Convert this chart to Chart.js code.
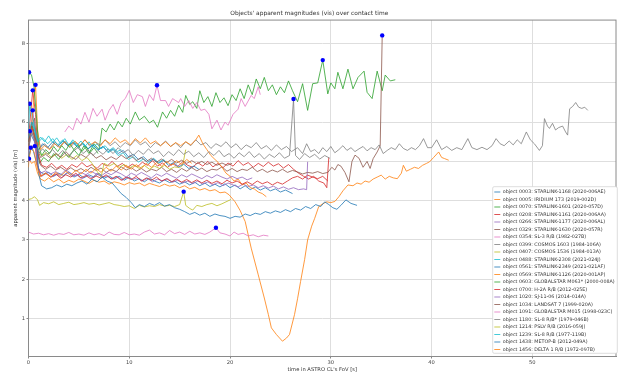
<!DOCTYPE html>
<html>
<head>
<meta charset="utf-8">
<script src="https://cdn.jsdelivr.net/npm/chart.js@4.4.0/dist/chart.umd.min.js"></script>
<style>
  html, body { margin: 0; padding: 0; background: #fff; }
</style>
</head>
<body>
<canvas id="c" width="620" height="373"></canvas>
<script>
// legend labels, in plotting order
const names = [
  "object 0003: STARLINK-1168 (2020-006AE)",
  "object 0005: IRIDIUM 173 (2019-002D)",
  "object 0070: STARLINK-1601 (2020-057D)",
  "object 0208: STARLINK-1161 (2020-006AA)",
  "object 0266: STARLINK-1177 (2020-006AL)",
  "object 0329: STARLINK-1630 (2020-057R)",
  "object 0354: SL-3 R/B (1982-027B)",
  "object 0399: COSMOS 1603 (1984-106A)",
  "object 0407: COSMOS 1536 (1984-013A)",
  "object 0488: STARLINK-2308 (2021-024J)",
  "object 0561: STARLINK-2349 (2021-021AF)",
  "object 0569: STARLINK-1126 (2020-001AP)",
  "object 0603: GLOBALSTAR M063* (2000-008A)",
  "object 0700: H-2A R/B (2012-025E)",
  "object 1020: SJ-11-06 (2014-014A)",
  "object 1034: LANDSAT 7 (1999-020A)",
  "object 1091: GLOBALSTAR M015 (1998-023C)",
  "object 1180: SL-8 R/B* (1979-046B)",
  "object 1214: PSLV R/B (2016-059J)",
  "object 1239: SL-8 R/B (1977-119B)",
  "object 1438: METOP-B (2012-049A)",
  "object 1456: DELTA 1 R/B (1972-097B)"
];

const colors = ['#1f77b4','#ff7f0e','#2ca02c','#d62728','#9467bd','#8c564b','#e377c2','#7f7f7f','#bcbd22','#17becf'];

// [time s, magnitude]
const obj0003 = [[0,5.1],[0.22,5.35],[0.5,5.25],[0.8,4.95],[1.1,4.75],[1.5,4.68],[2,4.72],[2.5,4.62],[3,4.7],[3.5,4.64],[4,4.73],[4.5,4.6],[5,4.67],[5.5,4.58],[6,4.66],[6.5,4.6],[7,4.7],[7.5,4.57],[8,4.63],[8.5,4.55],[9,4.62],[9.5,4.52],[10,4.6],[10.5,4.5],[11,4.56],[11.5,4.48],[12,4.57],[12.5,4.5],[13,4.45],[13.5,4.53],[14,4.46],[14.5,4.5],[15,4.42],[15.5,4.48],[16,4.4],[16.5,4.47],[17,4.38],[17.5,4.45],[18,4.36],[18.5,4.42],[19,4.35],[19.5,4.43],[20,4.33],[20.5,4.4],[21,4.3],[21.5,4.38],[22,4.28],[22.5,4.35],[23,4.27],[23.5,4.33],[24,4.25],[24.5,4.3],[25,4.22],[25.5,4.27],[26.2,4.18]];
const obj0005 = [[0,4.85],[0.05,5.07],[0.3,4.95],[0.6,5.0],[0.9,4.7],[1.2,4.55],[1.6,4.5],[2,4.58],[2.5,4.48],[3,4.55],[3.5,4.45],[4,4.52],[4.5,4.47],[5,4.55],[5.5,4.5],[6,4.44],[6.5,4.52],[7,4.47],[7.5,4.5],[8,4.42],[8.5,4.48],[9,4.45],[9.5,4.4],[10,4.46],[10.5,4.42],[11,4.45],[11.5,4.38],[12,4.44],[12.5,4.4],[13,4.36],[13.5,4.42],[14,4.37],[14.5,4.4],[15,4.33],[15.5,4.38],[16,4.3],[16.5,4.34],[17,4.27],[17.5,4.31],[18,4.25],[18.5,4.28],[19,4.2],[19.5,4.22],[19.9,4.15],[20.5,3.97],[21,3.75],[21.5,3.47],[22.1,2.79],[22.8,2.11],[23.4,1.52],[23.8,1.1],[24.1,0.76],[24.6,0.59],[25.2,0.42],[25.6,0.5],[25.9,0.59],[26.4,1.1],[26.7,1.5],[27,1.94],[27.4,2.5],[27.7,3.0],[28.1,3.35],[28.4,3.55],[28.8,3.85],[29.2,3.92],[29.6,3.97],[30,3.95],[30.4,3.98],[30.8,4.1],[31.2,4.25],[31.7,4.4],[32.2,4.38],[32.6,4.45],[33,4.42],[33.4,4.5],[33.8,4.47],[34.2,4.55],[34.6,4.6],[35,4.65],[35.4,4.55],[35.8,4.62],[36.2,4.58],[36.6,4.56],[37,4.7],[37.2,4.9],[37.5,4.75],[37.9,4.8],[38.3,4.85],[38.7,4.82],[39.1,4.9],[39.5,4.95],[39.8,4.99],[40.2,5.1],[40.7,5.24],[41,5.1],[41.3,5.07],[41.7,5.03]];
const obj0070 = [[0,5.5],[0.4,5.9],[0.8,5.4],[1.1,4.95],[1.5,5.1],[2,5.0],[2.5,5.2],[3,5.05],[3.5,5.25],[4,5.1],[4.5,5.3],[5,5.15],[5.5,5.4],[6,5.2],[6.5,5.45],[7,5.3],[7.3,5.85],[7.7,5.75],[8.1,5.95],[8.5,5.8],[8.9,6.02],[9.3,5.88],[9.7,6.1],[10.1,5.95],[10.6,6.26],[11,6.05],[11.5,6.15],[12,5.98],[12.4,6.05],[12.8,5.87],[13.3,6.26],[13.7,6.1],[14.1,6.3],[14.5,6.15],[14.9,6.43],[15.3,6.25],[15.6,6.68],[16,6.45],[16.3,6.52],[16.7,6.35],[17,6.8],[17.4,6.5],[17.8,6.65],[18.2,6.4],[18.6,6.75],[19,6.5],[19.4,6.62],[19.8,6.42],[20.2,6.7],[20.6,6.55],[21,6.85],[21.4,6.6],[21.8,6.95],[22.2,6.7],[22.6,7.1],[23,6.85],[23.4,7.14],[23.8,6.8],[24.2,6.95],[24.6,6.7],[25,6.9],[25.4,6.75],[25.8,7.05],[26.2,6.8],[26.7,6.52],[27.2,6.98],[27.7,6.3],[28.2,6.98],[28.7,7.0],[29.2,7.58],[29.7,6.72],[30,7.0],[30.4,6.85],[30.7,7.27],[31.2,6.85],[31.7,7.35],[32.2,6.85],[32.7,7.14],[33.3,7.3],[33.6,6.76],[34.1,6.6],[34.6,7.3],[35.1,6.8],[35.4,7.2],[35.9,7.05],[36.4,7.08]];
const obj0208 = [[0,5.6],[0.42,6.81],[0.7,6.2],[0.95,5.2],[1.3,4.9],[1.8,4.85],[2.3,4.95],[2.8,4.82],[3.3,4.9],[3.8,4.8],[4.3,4.92],[4.8,4.85],[5.3,4.97],[5.8,4.86],[6.3,4.92],[6.8,4.82],[7.3,4.95],[7.8,4.88],[8.3,5.0],[8.8,4.87],[9.3,4.95],[9.8,4.84],[10.3,4.93],[10.8,4.86],[11.3,4.98],[11.8,4.9],[12.3,5.02],[12.8,4.88],[13.3,4.96],[13.8,4.85],[14.3,4.94],[14.8,4.87],[15.3,4.99],[15.8,4.9],[16.3,4.85],[16.8,4.97],[17.3,4.88],[17.8,5.0],[18.3,4.86],[18.8,4.95],[19.3,4.84],[19.8,4.96],[20.3,4.88],[20.8,5.02],[21.3,4.9],[21.8,4.97],[22.3,4.85],[22.8,4.95],[23.3,4.87],[23.8,4.98],[24.3,4.88],[24.8,4.94],[25.3,4.83],[25.8,4.92],[26.3,4.8],[26.8,4.7],[27.3,4.62],[27.8,4.55],[28.3,4.62],[28.8,4.5],[29.3,4.45],[29.6,4.33],[29.8,5.1]];
const obj0266 = [[0,5.2],[0.42,6.3],[0.7,5.7],[0.95,4.85],[1.3,4.62],[1.8,4.7],[2.3,4.6],[2.8,4.68],[3.3,4.58],[3.8,4.72],[4.3,4.62],[4.8,4.66],[5.3,4.55],[5.8,4.65],[6.3,4.58],[6.8,4.7],[7.3,4.6],[7.8,4.63],[8.3,4.55],[8.8,4.62],[9.3,4.52],[9.8,4.6],[10.3,4.54],[10.8,4.58],[11.3,4.5],[11.8,4.57],[12.3,4.48],[12.8,4.55],[13.3,4.5],[13.8,4.56],[14.3,4.47],[14.8,4.52],[15.3,4.45],[15.8,4.5],[16.3,4.43],[16.8,4.5],[17.3,4.42],[17.8,4.48],[18.3,4.4],[18.8,4.46],[19.3,4.38],[19.8,4.45],[20.3,4.4],[20.8,4.35],[21.3,4.42],[21.8,4.36],[22.3,4.4],[22.8,4.33],[23.3,4.38],[23.8,4.32],[24.3,4.37],[24.8,4.3],[25.3,4.35],[25.8,4.29],[26.3,4.33],[26.8,4.28],[27.3,4.3],[27.6,4.28],[27.7,4.99]];
const obj0329 = [[0,5.3],[0.3,5.9],[0.6,6.1],[0.9,5.2],[1.2,4.9],[1.7,4.8],[2.2,4.88],[2.7,4.78],[3.2,4.85],[3.7,4.76],[4.2,4.84],[4.7,4.75],[5.2,4.82],[5.7,4.74],[6.2,4.85],[6.7,4.77],[7.2,4.83],[7.7,4.72],[8.2,4.8],[8.7,4.74],[9.2,4.86],[9.7,4.78],[10.2,4.84],[10.7,4.75],[11.2,4.82],[11.7,4.73],[12.2,4.8],[12.7,4.76],[13.2,4.85],[13.7,4.74],[14.2,4.8],[14.7,4.72],[15.2,4.82],[15.7,4.75],[16.2,4.84],[16.7,4.76],[17.2,4.83],[17.7,4.74],[18.2,4.8],[18.7,4.78],[19.2,4.86],[19.7,4.75],[20.2,4.82],[20.7,4.74],[21.2,4.8],[21.7,4.77],[22.2,4.85],[22.7,4.74],[23.2,4.8],[23.7,4.72],[24.2,4.78],[24.7,4.73],[25.2,4.8],[25.7,4.72],[26.2,4.77],[26.7,4.73],[27.2,4.68],[27.7,4.72],[28.2,4.7],[28.7,4.74],[29.2,4.69],[29.7,4.72],[30.1,4.85],[30.4,4.78],[30.7,4.92],[31,4.88],[31.4,4.72],[31.8,4.48],[32.1,5.0],[32.4,5.16],[32.8,5.08],[33.2,4.85],[33.6,5.0],[33.9,4.82],[34.2,5.07],[34.6,5.24],[34.9,5.4],[35.1,8.21]];
const obj0354 = [[3.6,5.75],[4,5.9],[4.4,5.8],[4.8,6.1],[5.2,5.95],[5.6,6.25],[6,6.0],[6.4,6.35],[6.8,6.15],[7.3,6.33],[7.6,6.05],[8,6.3],[8.4,6.45],[8.8,6.2],[9.2,6.5],[9.6,6.6],[10,6.81],[10.4,6.5],[10.8,6.7],[11.3,6.65],[11.6,6.4],[12,6.7],[12.4,6.55],[12.75,6.94],[13.1,6.55],[13.6,6.55],[13.9,6.4],[14.3,6.6],[14.9,6.5],[15.1,6.6],[15.5,6.4],[15.9,6.55],[16.3,6.35],[16.7,6.5],[17.1,6.3],[17.5,6.33],[17.9,6.2],[18.2,5.83],[18.7,6.05],[19.1,5.8],[19.5,6.0],[19.8,5.92],[20.3,6.2],[20.8,6.33],[21.1,6.6],[21.5,6.4],[22.1,6.68],[22.4,6.6],[22.8,6.9],[23,6.7]];
const obj0399 = [[0,5.6],[0.4,6.0],[0.8,5.7],[1.2,5.35],[1.6,5.45],[2.1,5.32],[2.6,5.5],[3.1,5.38],[3.6,5.52],[4.1,5.35],[4.6,5.48],[5.1,5.4],[5.6,5.55],[6.1,5.38],[6.6,5.5],[7.1,5.42],[7.6,5.55],[8.1,5.4],[8.6,5.5],[9.1,5.36],[9.6,5.48],[10.1,5.4],[10.6,5.55],[11.1,5.42],[11.6,5.5],[12.1,5.35],[12.6,5.48],[13.1,5.4],[13.6,5.52],[14.1,5.38],[14.6,5.47],[15.1,5.35],[15.6,5.5],[16.1,5.4],[16.6,5.55],[17.1,5.42],[17.6,5.48],[18.1,5.33],[18.6,5.45],[19.1,5.38],[19.6,5.5],[20.1,5.35],[20.6,5.45],[21.1,5.3],[21.6,5.42],[22.1,5.35],[22.6,5.48],[23.1,5.32],[23.6,5.4],[24.1,5.28],[24.6,5.42],[25.1,5.3],[25.6,5.38],[26.1,5.25],[26.7,5.35],[27.2,5.2],[27.6,5.45],[28,5.25],[28.4,5.3],[28.8,5.2],[29.2,5.35],[29.6,5.25],[30,5.38],[30.4,5.22],[30.8,5.3],[31.2,5.4],[31.6,5.28],[32,5.35],[32.4,5.25],[32.8,5.32],[33.2,5.38],[33.6,5.27],[34,5.35],[34.4,5.3],[34.8,5.42],[35.2,5.2],[35.6,5.28],[36,5.35],[36.4,5.3],[36.8,5.45],[37.2,5.33],[37.6,5.28],[38,5.35],[38.4,5.3],[38.8,5.4],[39.2,5.58],[39.6,5.35],[40,5.35],[40.5,5.55],[41,5.3],[41.5,5.38],[42,5.28],[42.5,5.35],[43,5.3],[43.6,5.58],[44,5.35],[44.5,5.3],[45,5.36],[45.5,5.3],[46,5.4],[46.4,5.58],[46.8,5.45],[47.2,5.4],[47.7,5.52],[48.1,5.42],[48.5,5.55],[48.9,5.45],[49.4,5.75],[49.8,5.55],[50.2,5.45],[50.7,5.28],[51,5.4],[51.2,6.09],[51.5,5.9],[51.7,5.84],[52,5.97],[52.3,5.8],[52.6,5.86],[53,5.9],[53.3,5.75],[53.5,5.67],[53.7,6.34],[54,6.4],[54.3,6.5],[54.6,6.38],[54.9,6.35],[55.2,6.38],[55.5,6.3]];
const obj0407 = [[0,5.5],[0.3,5.9],[0.6,5.6],[0.9,5.3],[1.3,5.15],[1.8,5.22],[2.3,5.1],[2.8,5.2],[3.3,5.08],[3.8,5.18],[4.3,5.05],[4.8,5.15],[5.3,5.02],[5.8,5.1],[6.3,4.95],[6.8,4.75],[7.2,4.6],[7.5,4.95],[8,4.88],[8.5,4.95],[9,4.85],[9.5,4.92],[10,4.83],[10.5,4.9],[11,4.82],[11.5,4.9],[12,4.8],[12.5,4.88],[13,4.82],[13.5,4.9],[14,4.8],[14.5,4.86],[15,4.84],[15.3,4.9],[15.6,5.3]];
const obj0488 = [[0,5.8],[0.12,6.47],[0.4,6.1],[0.7,5.7],[1,5.5],[1.4,5.6],[1.9,5.45],[2.4,5.58],[2.9,5.42],[3.4,5.55],[3.9,5.4],[4.4,5.5],[4.9,5.36],[5.4,5.48],[5.9,5.32],[6.4,5.42],[6.9,5.28],[7.4,5.38],[7.9,5.22],[8.4,5.3],[8.9,5.15],[9.4,5.22],[9.9,5.05],[10.4,5.12],[10.9,4.98],[11.4,5.06],[11.9,4.95],[12.4,5.08],[12.9,4.97],[13.4,5.05],[13.8,4.95]];
const obj0561 = [[0,5.5],[0.12,5.77],[0.4,5.6],[0.7,5.45],[1,5.3],[1.4,5.45],[1.9,5.35],[2.4,5.5],[2.9,5.38],[3.4,5.52],[3.9,5.4],[4.4,5.48],[4.9,5.35],[5.4,5.45],[5.9,5.32],[6.4,5.42],[6.9,5.3],[7.4,5.38],[7.9,5.25],[8.4,5.32],[8.9,5.2],[9.4,5.28],[9.9,5.12],[10.4,5.18],[10.9,5.05],[11.4,5.12],[11.9,5.0],[12.4,5.06],[12.9,4.95],[13.4,5.02],[13.9,4.9],[14.4,4.97],[14.9,4.86],[15.4,4.93],[15.9,4.82],[16.4,4.88],[16.9,4.8]];
const obj0569 = [[0,5.3],[0.3,5.9],[0.5,6.5],[0.7,6.95],[0.9,5.8],[1.2,5.3],[1.6,5.4],[2.1,5.3],[2.6,5.45],[3.1,5.35],[3.6,5.5],[4.1,5.38],[4.6,5.52],[5.1,5.4],[5.6,5.55],[6.1,5.42],[6.6,5.5],[7.1,5.38],[7.6,5.55],[8.1,5.45],[8.6,5.6],[9.1,5.48],[9.6,5.55],[10.1,5.42],[10.6,5.58],[11.1,5.47],[11.6,5.6],[12.1,5.45],[12.6,5.52],[13.1,5.4],[13.6,5.5],[14.1,5.38],[14.6,5.48],[15.1,5.4],[15.6,5.5],[16.1,5.42],[16.6,5.55],[16.9,5.67],[17.3,5.45],[17.7,5.3],[18.1,5.15],[18.5,5.05],[18.8,4.98],[19.2,4.85],[19.6,4.7],[20,4.62],[20.4,4.5],[20.8,4.55],[21.2,4.4],[21.6,4.45],[22,4.33],[22.4,4.3],[22.8,4.22],[23.2,4.18],[23.6,4.1]];
const obj0603 = [[0,7.1],[0.05,7.27],[0.3,7.2],[0.55,6.9],[0.8,6.1],[1,5.4],[1.3,5.15],[1.7,5.3],[2.1,5.2],[2.5,5.38],[2.9,5.25],[3.3,5.4],[3.7,5.28],[4.1,5.45],[4.5,5.3],[4.9,5.42],[5.3,5.25],[5.7,5.38],[6.1,5.22],[6.5,5.35],[6.9,5.2]];
const obj0700 = [[0,5.5],[0.3,5.9],[0.6,5.6],[0.9,4.9],[1.2,4.62],[1.7,4.7],[2.2,4.6],[2.7,4.68],[3.2,4.57],[3.7,4.66],[4.2,4.6],[4.7,4.7],[5.2,4.58],[5.7,4.64],[6.2,4.55],[6.7,4.63],[7.2,4.57],[7.7,4.66],[8.2,4.55],[8.7,4.62],[9.2,4.52],[9.7,4.6],[10.2,4.54],[10.7,4.62],[11.2,4.5],[11.7,4.58],[12.2,4.52],[12.7,4.6],[13.2,4.5],[13.7,4.56],[14.2,4.48],[14.7,4.55],[15.2,4.47],[15.7,4.54],[16.2,4.46],[16.7,4.53],[17.2,4.45],[17.7,4.52],[18.2,4.44],[18.7,4.5],[19.2,4.43],[19.7,4.52],[20.2,4.45],[20.7,4.5],[21.2,4.42],[21.7,4.48],[22.2,4.41],[22.7,4.5],[23.2,4.43],[23.7,4.48],[24.2,4.4],[24.7,4.47],[25.2,4.42],[25.7,4.5],[26.2,4.58],[26.7,4.62],[27.2,4.55],[27.7,4.65],[28.2,4.6],[28.7,4.56],[29.2,4.62],[29.7,4.5]];
const obj1020 = [[0,5.3],[0.3,5.8],[0.6,5.5],[0.9,4.9],[1.2,4.7],[1.7,4.76],[2.2,4.68],[2.7,4.74],[3.2,4.66],[3.7,4.78],[4.2,4.7],[4.7,4.62],[5.2,4.72],[5.7,4.66],[6.2,4.75],[6.7,4.68],[7.2,4.63],[7.7,4.72],[8.2,4.66],[8.7,4.74],[9.2,4.68],[9.7,4.6],[10.2,4.7],[10.7,4.64],[11.2,4.72],[11.7,4.65],[12.2,4.58],[12.7,4.68],[13.2,4.62],[13.7,4.7],[14.2,4.63],[14.7,4.57],[15.2,4.66],[15.7,4.6],[16.2,4.68],[16.7,4.62],[17.2,4.56],[17.7,4.64],[18.2,4.58],[18.7,4.66],[19.2,4.6],[19.7,4.55],[20.2,4.62],[20.7,4.56],[21.2,4.6],[21.7,4.53],[22.2,4.58]];
const obj1034 = [[0,5.4],[0.3,6.0],[0.6,5.7],[0.9,5.3],[1.2,5.1],[1.7,5.18],[2.2,5.08],[2.7,5.2],[3.2,5.1],[3.7,5.25],[4.2,5.12],[4.7,5.05],[5.2,5.18],[5.7,5.1],[6.2,5.22],[6.7,5.08],[7.2,5.15],[7.7,5.04],[8.2,5.12],[8.7,5.05],[9.2,5.16],[9.7,5.07],[10.2,5.14],[10.7,5.02],[11.2,5.1],[11.7,5.0],[12.2,5.08],[12.7,4.98],[13.2,5.06],[13.7,4.97],[14.2,5.05],[14.7,4.96],[15.2,5.03],[15.7,4.95],[16.2,5.02],[16.7,4.94],[17.2,5.0],[17.7,4.92],[18.2,4.98],[18.7,4.9],[19.2,4.96],[19.7,4.9],[20.2,4.95]];
const obj1091 = [[0,3.2],[0.5,3.15],[1,3.17],[1.5,3.13],[2,3.16],[2.5,3.12],[3,3.16],[3.5,3.14],[4,3.19],[4.5,3.13],[5,3.15],[5.5,3.12],[6,3.18],[6.5,3.13],[7,3.16],[7.5,3.11],[8,3.2],[8.5,3.14],[9,3.13],[9.5,3.19],[10,3.13],[10.5,3.15],[11,3.12],[11.5,3.2],[12,3.25],[12.5,3.15],[13,3.18],[13.5,3.13],[14,3.24],[14.5,3.16],[15,3.2],[15.5,3.14],[16,3.22],[16.5,3.15],[17,3.18],[17.5,3.14],[18,3.2],[18.6,3.31],[19,3.18],[19.5,3.15],[20,3.1],[20.4,3.2],[20.8,3.14],[21.3,3.17],[21.8,3.1],[22.3,3.13],[22.8,3.08],[23.3,3.12],[23.8,3.1]];
const obj1180 = [[0,5.3],[0.3,5.75],[0.7,5.5],[1,5.2],[1.4,5.32],[1.9,5.18],[2.4,5.3],[2.9,5.15],[3.4,5.28],[3.9,5.12],[4.4,5.25],[4.9,5.35],[5.4,5.2],[5.9,5.3],[6.4,5.15],[6.9,5.28],[7.4,5.18],[7.9,5.32],[8.4,5.2],[8.9,5.35],[9.4,5.22],[9.9,5.3],[10.4,5.15],[10.9,5.28],[11.4,5.18],[11.9,5.32],[12.4,5.2],[12.9,5.27],[13.4,5.12],[13.9,5.25],[14.4,5.15],[14.9,5.3],[15.4,5.18],[15.9,5.26],[16.4,5.12],[16.9,5.22],[17.4,5.1],[17.9,5.25],[18.4,5.15],[18.9,5.28],[19.4,5.12],[19.9,5.2],[20.4,5.08],[20.9,5.22],[21.4,5.12],[21.9,5.25],[22.4,5.1],[22.9,5.2],[23.4,5.06],[23.9,5.18],[24.4,5.1],[24.9,5.22],[25.4,5.08],[25.9,5.15],[26.3,6.59],[26.5,5.15],[26.9,5.05],[27.4,5.2],[27.9,5.1],[28.4,5.18],[28.9,5.06],[29.4,5.15],[29.9,5.08]];
const obj1214 = [[0,4.03],[0.3,4.05],[0.6,4.1],[0.9,4.02],[1.1,3.88],[1.5,3.95],[2,3.92],[2.5,3.97],[3,3.9],[3.5,3.93],[4,3.96],[4.5,3.9],[5,3.92],[5.5,3.95],[6,3.91],[6.5,3.93],[7,3.89],[7.5,3.92],[8,3.95],[8.5,3.9],[9,3.88],[9.5,3.85],[10,3.87],[10.5,3.8],[11,3.88],[11.5,3.84],[12,3.87],[12.5,3.85],[13,3.9],[13.5,3.86],[14,3.88],[14.5,3.85],[15,3.9],[15.4,4.23],[15.6,3.88],[16,3.8],[16.3,3.76],[16.7,3.88],[17.2,3.85],[17.7,3.9],[18.2,3.93],[18.7,3.87],[19.2,3.92],[19.6,3.97],[20.1,4.03]];
const obj1239 = [[0,5.6],[0.3,6.0],[0.6,5.8],[0.9,5.5],[1.2,5.62],[1.6,5.5],[2,5.65],[2.4,5.48],[2.8,5.6],[3.2,5.45],[3.6,5.58],[4,5.42],[4.4,5.55],[4.8,5.4],[5.2,5.52],[5.6,5.38],[6,5.5],[6.4,5.35],[6.8,5.45],[7.2,5.32],[7.6,5.4],[8,5.28],[8.4,5.35],[8.8,5.25],[9.2,5.3]];
const obj1438 = [[0,5.05],[0.2,5.3],[0.4,5.37],[0.62,5.39],[0.85,5.35],[1,4.7],[1.3,4.38],[1.8,4.3],[2.3,4.33],[2.8,4.4],[3.3,4.35],[3.8,4.42],[4.3,4.38],[4.8,4.45],[5.3,4.5],[5.8,4.42],[6.3,4.55],[6.8,4.48],[7.3,4.6],[7.8,4.5],[8.3,4.45],[8.8,4.3],[9.2,4.18],[9.7,4.08],[10.2,3.95],[10.6,3.82],[11,3.9],[11.5,3.85],[12,3.93],[12.5,3.88],[13,3.95],[13.5,3.86],[14,3.9],[14.5,3.82],[15,3.78],[15.5,3.72],[16,3.65],[16.5,3.7],[17,3.63],[17.5,3.68],[18,3.6],[18.5,3.66],[19,3.62],[19.5,3.6],[20,3.55],[20.5,3.6],[21,3.58],[21.5,3.66],[22,3.62],[22.5,3.68],[23,3.65],[23.5,3.72],[24,3.68],[24.5,3.74],[25,3.7],[25.5,3.77],[26,3.72],[26.5,3.8],[27,3.76],[27.5,3.85],[28,3.8],[28.5,3.9],[29,3.85],[29.4,3.97],[29.8,3.9],[30.2,3.82],[30.6,3.78],[31,3.88],[31.5,4.02],[32,3.93],[32.6,3.88]];
const obj1456 = [[0,5.0],[0.3,5.4],[0.6,5.2],[0.9,4.8],[1.2,4.62],[1.7,4.7],[2.2,4.6],[2.7,4.72],[3.2,4.63],[3.7,4.75],[4.2,4.65],[4.7,4.78],[5.2,4.68],[5.7,4.8],[6.2,4.7],[6.7,4.82],[7.2,4.72],[7.7,4.85],[8.2,4.75],[8.7,4.88],[9.2,4.78],[9.7,4.9],[10.2,4.8],[10.7,4.92],[11.2,4.82],[11.7,4.95],[12.2,4.85],[12.7,4.97],[13.2,4.88],[13.7,5.0],[14.2,4.9],[14.7,5.02],[15.2,4.92],[15.7,5.05],[16.2,4.95]];

const series = [obj0003, obj0005, obj0070, obj0208, obj0266, obj0329, obj0354, obj0399, obj0407, obj0488,
  obj0561, obj0569, obj0603, obj0700, obj1020, obj1034, obj1091, obj1180, obj1214, obj1239, obj1438, obj1456];

// marked brightest points
const peakT = [0.05, 0.12, 0.42, 0.7, 0.42, 0.12, 0.22, 0.62, 0.05, 12.75, 15.4, 18.6, 26.3, 29.2, 35.1];
const peakM = [7.27, 6.47, 6.81, 6.95, 6.3, 5.77, 5.35, 5.39, 5.07, 6.94, 4.23, 3.31, 6.59, 7.58, 8.21];

const xTicks = [0, 10, 20, 30, 40, 50];
const yTicks = [1, 2, 3, 4, 5, 6, 7, 8];

// legend frame, and where the legend entries start
const legendBox = { x: 492.7, y: 186.7, w: 124.6, h: 166.6 };
const legendAt = { x: 491.6, y: 186.9 };

const datasets = series.map((pts, i) => ({
  label: names[i],
  data: pts,
  borderColor: colors[i % 10] + 'cc',
  backgroundColor: colors[i % 10],
  borderWidth: 1,
  pointRadius: 0,
  tension: 0,
  fill: false,
  order: series.length - i
}));
datasets.push({
  label: 'peaks',
  data: peakT.map((t, i) => ({ x: t, y: peakM[i] })),
  showLine: false,
  pointRadius: 2.2,
  pointBackgroundColor: '#0000ff',
  pointBorderWidth: 0,
  order: 0
});

const frame = {
  id: 'frame',
  afterLayout(chart) {
    const lg = chart.legend;
    lg.left = legendAt.x; lg.top = legendAt.y;
    lg.width = legendBox.w; lg.height = 300;
    lg.right = legendAt.x + legendBox.w; lg.bottom = legendAt.y + 300;
  },
  beforeDatasetsDraw(chart) {
    const { ctx, chartArea: a } = chart;
    ctx.save();
    ctx.strokeStyle = '#8a8a8a';
    ctx.lineWidth = 1;
    ctx.strokeRect(a.left, a.top, a.right - a.left, a.bottom - a.top);
    ctx.restore();
  },
  afterDraw(chart) {
    const ctx = chart.ctx;
    ctx.save();
    ctx.fillStyle = '#fff';
    ctx.strokeStyle = '#d4d4d4';
    ctx.lineWidth = 0.8;
    ctx.beginPath();
    ctx.roundRect(legendBox.x, legendBox.y, legendBox.w, legendBox.h, 1.5);
    ctx.fill();
    ctx.stroke();
    ctx.restore();
    chart.legend.draw();
  }
};

new Chart(document.getElementById('c'), {
  type: 'line',
  data: { datasets },
  plugins: [frame],
  options: {
    responsive: false,
    animation: false,
    devicePixelRatio: 1,
    layout: { padding: { left: 0, right: 1.4, top: 0, bottom: 0 } },
    plugins: {
      title: {
        display: true,
        text: "Objects' apparent magnitudes (vis) over contact time",
        color: '#333',
        font: { family: 'DejaVu Sans', size: 5.9, weight: 'normal' },
        padding: { top: 10, bottom: 3 }
      },
      legend: {
        position: 'chartArea',
        align: 'start',
        labels: {
          color: '#333',
          font: { family: 'DejaVu Sans', size: 4.8 },
          usePointStyle: true,
          pointStyle: 'line',
          pointStyleWidth: 6,
          boxHeight: 4.8,
          padding: 2.7,
          filter: (item) => item.datasetIndex < series.length,
          sort: (a, b) => a.datasetIndex - b.datasetIndex
        }
      },
      tooltip: { enabled: false }
    },
    scales: {
      x: {
        type: 'linear',
        min: 0,
        max: 58.3,
        afterBuildTicks: (axis) => { axis.ticks = xTicks.map(v => ({ value: v })); },
        afterFit: (axis) => { axis.height = 16.5; },
        ticks: { color: '#444', font: { family: 'DejaVu Sans', size: 5.2 }, padding: 1, maxRotation: 0 },
        grid: { color: '#dedede', tickColor: '#888', tickLength: 2 },
        border: { color: '#8a8a8a' },
        title: { display: true, text: "time in ASTRO CL's FoV [s]", color: '#333', font: { family: 'DejaVu Sans', size: 5.2 }, padding: 0 }
      },
      y: {
        type: 'linear',
        min: 0.03,
        max: 8.6,
        afterBuildTicks: (axis) => { axis.ticks = yTicks.map(v => ({ value: v })); },
        afterFit: (axis) => { axis.width = 28.5; },
        ticks: { color: '#444', font: { family: 'DejaVu Sans', size: 5.2 }, padding: 1.5 },
        grid: { color: '#dedede', tickColor: '#888', tickLength: 2 },
        border: { color: '#8a8a8a' },
        title: { display: true, text: 'apparent magnitude (vis) [m]', color: '#333', font: { family: 'DejaVu Sans', size: 5.2 }, padding: { top: 13, bottom: 0 } }
      }
    }
  }
});
</script>
</body>
</html>
